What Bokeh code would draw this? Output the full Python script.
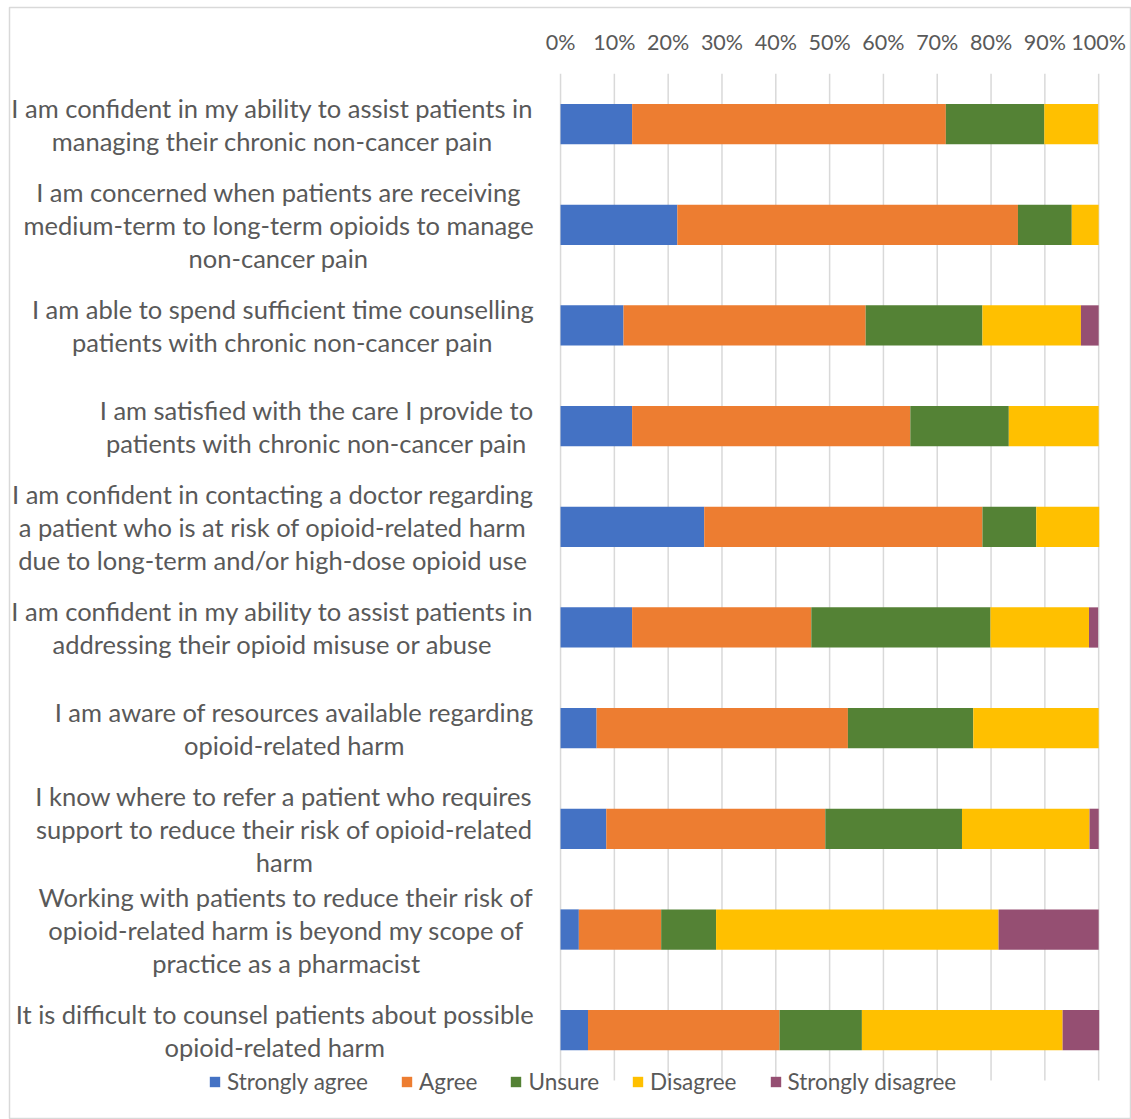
from bokeh.plotting import figure
from bokeh.models import ColumnDataSource, Range1d, Legend, LegendItem
from bokeh.core.properties import value
from bokeh.embed import file_html
from bokeh.resources import INLINE

categories = [
    "I am confident in my ability to assist patients in\nmanaging their chronic non-cancer pain",
    "I am concerned when patients are receiving\nmedium-term to long-term opioids to manage\nnon-cancer pain",
    "I am able to spend sufficient time counselling\npatients with chronic non-cancer pain",
    "I am satisfied with the care I provide to\npatients with chronic non-cancer pain",
    "I am confident in contacting a doctor regarding\na patient who is at risk of opioid-related harm\ndue to long-term and/or high-dose opioid use",
    "I am confident in my ability to assist patients in\naddressing their opioid misuse or abuse",
    "I am aware of resources available regarding\nopioid-related harm",
    "I know where to refer a patient who requires\nsupport to reduce their risk of opioid-related\nharm",
    "Working with patients to reduce their risk of\nopioid-related harm is beyond my scope of\npractice as a pharmacist",
    "It is difficult to counsel patients about possible\nopioid-related harm",
]
series_names = ["Strongly agree", "Agree", "Unsure", "Disagree", "Strongly disagree"]
strongly_agree = [13.3, 21.7, 11.7, 13.3, 26.7, 13.3, 6.7, 8.5, 3.4, 5.1]
agree = [58.3, 63.3, 45.0, 51.7, 51.7, 33.3, 46.7, 40.7, 15.3, 35.6]
unsure = [18.3, 10.0, 21.7, 18.3, 10.0, 33.3, 23.3, 25.4, 10.2, 15.3]
disagree = [10.0, 5.0, 18.3, 16.7, 11.7, 18.3, 23.3, 23.7, 52.5, 37.3]
strongly_disagree = [0.0, 0.0, 3.3, 0.0, 0.0, 1.7, 0.0, 1.7, 18.6, 6.8]
tick_values = [0, 10, 20, 30, 40, 50, 60, 70, 80, 90, 100]
tick_labels = ["0%", "10%", "20%", "30%", "40%", "50%", "60%", "70%", "80%", "90%", "100%"]

colors = ["#4472C4", "#ED7D31", "#548235", "#FFC000", "#954F72"]
FONT = "Lato"
TXT = "#595959"

W, H = 1131, 1119
ys = list(range(len(categories)))
data = {"y": ys}
for name, vals in zip(series_names, [strongly_agree, agree, unsure, disagree, strongly_disagree]):
    data[name] = vals
source = ColumnDataSource(data)

p = figure(width=W, height=H, output_backend="svg", toolbar_location=None,
           x_range=Range1d(-102.4, 106.1), y_range=Range1d(9.887, -1.158),
           x_axis_location=None, y_axis_location=None,
           min_border_left=9, min_border_top=7, min_border_right=0, min_border_bottom=0)
p.grid.visible = False
p.outline_line_color = "#D9D9D9"
p.outline_line_width = 1.5
p.background_fill_color = "white"
p.border_fill_color = "white"

# vertical gridlines
p.segment(x0=tick_values, x1=tick_values, y0=[-0.5] * len(tick_values), y1=[9.5] * len(tick_values),
          line_color="#D9D9D9", line_width=1.5)

renderers = p.hbar_stack(series_names, y="y", height=0.4, color=colors, source=source, line_width=0)

# top tick labels
p.text(x=tick_values, y=[-0.82] * len(tick_values), text=tick_labels,
       text_align="center", text_baseline="middle", text_font=value(FONT),
       text_font_size="21.5px", text_color=TXT)

# category labels
p.text(x=[-5] * len(categories), y=ys, text=categories,
       anchor=value("center_right"), text_align="center", text_baseline="middle",
       text_font=value(FONT), text_font_size="25.5px", text_color=TXT, text_line_height=1.1)

legend = Legend(items=[LegendItem(label=n, renderers=[r]) for n, r in zip(series_names, renderers)],
                orientation="horizontal", location=(199, 24),
                glyph_width=13, glyph_height=13, label_standoff=6, spacing=32,
                padding=0, margin=0, label_height=22,
                label_text_font=FONT, label_text_font_size="22.5px", label_text_color=TXT,
                border_line_alpha=0, background_fill_alpha=0)
p.add_layout(legend)

open("out.html", "w").write(file_html(p, INLINE))
